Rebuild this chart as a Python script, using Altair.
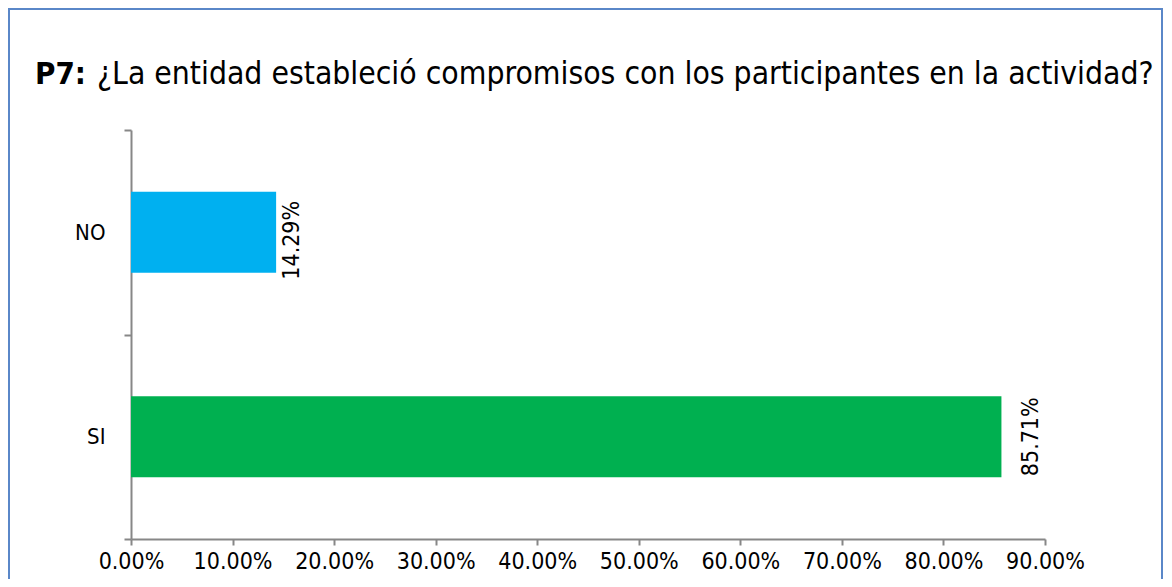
import altair as alt
import pandas as pd

categories = ["NO", "SI"]
values = [0.1429, 0.8571]
colors = ["#00B0F0", "#00B050"]
title_bold = "P7:"
title_rest = "¿La entidad estableció compromisos con los participantes en la actividad?"

FONT = "DejaVu Sans Condensed"
AXC = "#878787"
df = pd.DataFrame({"cat": categories, "val": values})

W, H = 914, 409

base = alt.Chart(df)

bars = base.mark_bar(size=81).encode(
    y=alt.Y("cat:N", sort=categories, title=None,
            scale=alt.Scale(paddingInner=0, paddingOuter=0),
            axis=alt.Axis(tickBand="extent", grid=False, domainColor=AXC, domainWidth=2,
                          tickColor=AXC, tickWidth=2, tickSize=7,
                          labelFont=FONT, labelFontSize=22, labelColor="#000000",
                          labelPadding=19)),
    x=alt.X("val:Q", title=None,
            scale=alt.Scale(domain=[0, 0.9], nice=False),
            axis=alt.Axis(format=".2%", values=[i / 10 for i in range(10)],
                          domainColor=AXC, domainWidth=2,
                          tickColor=AXC, tickWidth=2, tickSize=6,
                          labelFont=FONT, labelFontSize=23, labelColor="#000000",
                          labelPadding=5, labelOverlap=False, labelFlush=False,
                          grid=False)),
    color=alt.Color("cat:N", scale=alt.Scale(domain=categories, range=colors), legend=None),
)

def bar_label(cat, x_off, y_off):
    return base.transform_filter(alt.datum.cat == cat).mark_text(
        angle=270, align="center", baseline="top", xOffset=x_off, yOffset=y_off,
        font=FONT, fontSize=23, color="#000000").encode(
        y=alt.Y("cat:N", sort=categories),
        x=alt.X("val:Q"),
        text=alt.Text("val:Q", format=".2%"),
    )

lab_no = bar_label("NO", 5, 8)
lab_si = bar_label("SI", 19, 0)

t1 = alt.Chart(pd.DataFrame({"t": [title_bold]})).mark_text(
    align="left", baseline="alphabetic", font=FONT, fontSize=31, fontWeight="bold",
    color="#000000").encode(text="t:N", x=alt.value(-96), y=alt.value(-46))
t2 = alt.Chart(pd.DataFrame({"t": [title_rest]})).mark_text(
    align="left", baseline="alphabetic", font=FONT, fontSize=31.6,
    color="#000000").encode(text="t:N", x=alt.value(-34), y=alt.value(-46))

border = alt.Chart(pd.DataFrame({"a": [0]})).mark_rect(
    fill=None, stroke="#5A87C8", strokeWidth=2).encode(
    x=alt.value(-122), x2=alt.value(1031), y=alt.value(-121), y2=alt.value(470))

chart = alt.layer(border, bars, lab_no, lab_si, t1, t2).properties(
    width=W, height=H,
    background="white",
    autosize=alt.AutoSizeParams(type="none"),
    padding={"left": 123, "top": 122, "right": 119, "bottom": 40},
).configure_view(strokeWidth=0).configure_axis(grid=False)

chart.save("out.html", embed_options={"renderer": "svg", "actions": False})
